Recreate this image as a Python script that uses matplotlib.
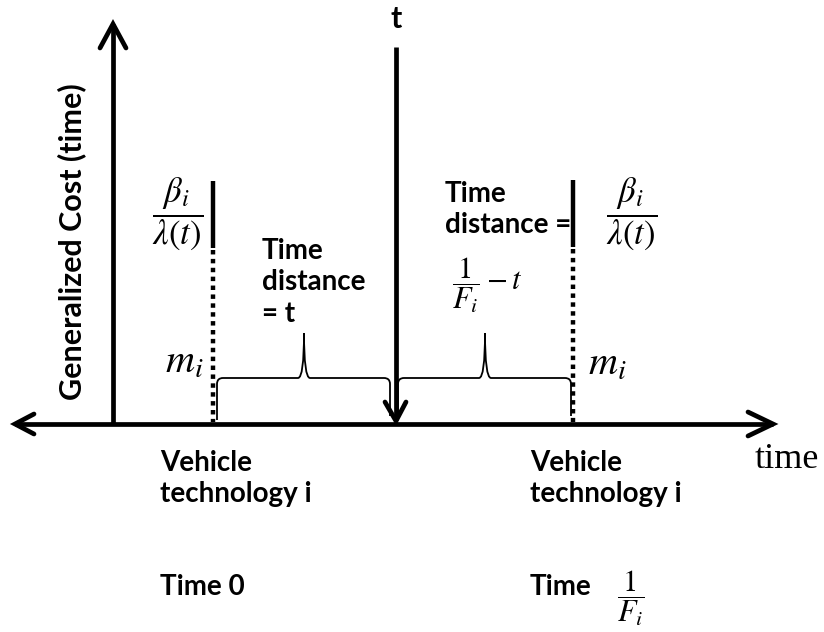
import matplotlib.pyplot as plt
from matplotlib.path import Path
from matplotlib.patches import PathPatch

plt.rcParams['mathtext.fontset'] = 'stix'
plt.rcParams['font.family'] = ['Lato', 'DejaVu Sans']

# diagram layout, in pixel coords (y grows downward)
axis_y = 424
cost_axis_x = 113
now_x = 396
tick_x = [213, 573]
tick_solid = [(181, 248), (180, 247)]
brace_x = [(217, 390), (398, 571)]
brace_mid = [304, 485]

fig = plt.figure(figsize=(8.24, 6.32), dpi=100)
ax = fig.add_axes([0, 0, 1, 1])
ax.set_xlim(0, 824)
ax.set_ylim(632, 0)
ax.axis('off')

lw = 3.4
# horizontal time axis with open heads at both ends
ax.plot([15, 773], [axis_y, axis_y], color='k', lw=lw, solid_capstyle='butt')
ax.plot([34, 15, 34], [axis_y - 10, axis_y, axis_y + 10], color='k', lw=lw,
        solid_joinstyle='miter', solid_capstyle='round')
ax.plot([748, 773, 748], [axis_y - 12, axis_y, axis_y + 12], color='k', lw=lw,
        solid_joinstyle='miter', solid_capstyle='round')

# vertical cost axis
ax.plot([cost_axis_x, cost_axis_x], [axis_y, 24], color='k', lw=lw, solid_capstyle='butt')
ax.plot([100, cost_axis_x, 126], [48, 24, 48], color='k', lw=lw,
        solid_joinstyle='miter', solid_capstyle='round')

# "now" arrow pointing down
ax.plot([now_x, now_x], [47, 420], color='k', lw=lw, solid_capstyle='butt')
ax.plot([385, now_x, 406], [402, 421, 402], color='k', lw=lw,
        solid_joinstyle='miter', solid_capstyle='round')
ax.text(now_x, 19, 't', ha='center', va='center', fontsize=22, fontweight='bold')

# vehicle arrival ticks: solid (waiting cost) + dotted (money cost)
for x, (s0, s1) in zip(tick_x, tick_solid):
    ax.plot([x, x], [s0, s1], color='k', lw=3.2, solid_capstyle='butt')
    ax.plot([x, x], [s1 + 2, axis_y - 2], color='k', lw=3.2,
            linestyle=(0, (1, 1)), dash_capstyle='butt')


def brace(x0, x1, xm, ytop=378, ypeak=333, ybase=420, r=6):
    verts = [(x0, ybase), (x0, ytop + r), (x0, ytop), (x0 + r, ytop),
             (xm - r, ytop), (xm, ytop), (xm, ypeak),
             (xm, ytop), (xm + r, ytop),
             (x1 - r, ytop), (x1, ytop), (x1, ytop + r), (x1, ybase - 4)]
    codes = [Path.MOVETO, Path.LINETO, Path.CURVE3, Path.CURVE3,
             Path.LINETO, Path.CURVE3, Path.CURVE3,
             Path.CURVE3, Path.CURVE3,
             Path.LINETO, Path.CURVE3, Path.CURVE3, Path.LINETO]
    ax.add_patch(PathPatch(Path(verts, codes), fill=False, lw=1.3, color='k'))


for (x0, x1), xm in zip(brace_x, brace_mid):
    brace(x0, x1, xm)

fs = 20
ax.text(72, 242, 'Generalized Cost (time)', rotation=90, ha='center', va='center',
        fontsize=22, fontweight='bold')

frac = r'$\dfrac{\beta_i}{\lambda(t)}$'
ax.text(178, 214, frac, ha='center', va='center', fontsize=25)
ax.text(632, 214, frac, ha='center', va='center', fontsize=25)
ax.text(184, 362, r'$m_i$', ha='center', va='center', fontsize=29)
ax.text(607, 364, r'$m_i$', ha='center', va='center', fontsize=29)

ax.text(262, 238, 'Time\ndistance\n= t', ha='left', va='top', fontsize=fs,
        fontweight='bold', linespacing=1.25)
ax.text(445, 181, 'Time\ndistance =', ha='left', va='top', fontsize=fs,
        fontweight='bold', linespacing=1.25)
ax.text(452, 285, r'$\dfrac{1}{F_i} - t$', ha='left', va='center', fontsize=22)

for x in [160, 530]:
    ax.text(x, 450, 'Vehicle\ntechnology i', ha='left', va='top', fontsize=fs,
            fontweight='bold', linespacing=1.25)
ax.text(160, 587, 'Time 0', ha='left', va='center', fontsize=fs, fontweight='bold')
ax.text(530, 587, 'Time', ha='left', va='center', fontsize=fs, fontweight='bold')
ax.text(631, 598, r'$\dfrac{1}{F_i}$', ha='center', va='center', fontsize=22)

ax.text(787, 460, 'time', ha='center', va='center', fontsize=26,
        family='Liberation Serif')

fig.savefig('out.png', dpi=100)
